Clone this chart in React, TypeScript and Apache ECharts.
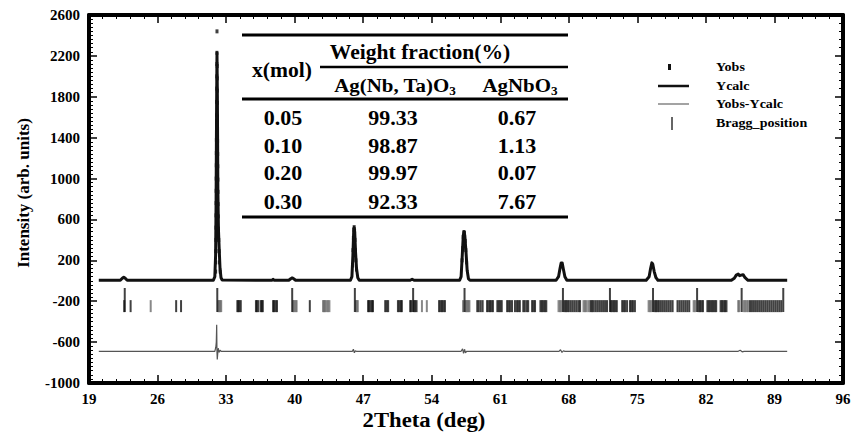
import React, { useEffect, useRef } from 'react';
import * as echarts from 'echarts';

const FONT = '"Liberation Serif", "Times New Roman", serif';

// X axis (2Theta) and Y axis (Intensity) ranges / ticks
const xMin = 19, xMax = 96, xStep = 7;
const yMin = -1000, yMax = 2600, yStep = 400;

// Calculated profile (Ycalc) : [2theta, intensity]
const ycalc: number[][] = [
  [20.0, 5], [22.2, 5], [22.4, 25], [22.55, 35], [22.7, 25], [22.9, 5],
  [31.7, 5], [31.85, 40], [31.93, 250], [31.98, 800], [32.03, 1700], [32.07, 2230],
  [32.11, 1800], [32.16, 900], [32.22, 500], [32.3, 300], [32.38, 120], [32.48, 30], [32.6, 8],
  [37.7, 5], [37.8, 15], [37.9, 5],
  [39.4, 5], [39.6, 20], [39.75, 28], [39.9, 20], [40.1, 5],
  [45.7, 5], [45.85, 40], [45.95, 250], [46.03, 480], [46.08, 520], [46.14, 470],
  [46.22, 280], [46.32, 120], [46.45, 30], [46.6, 6],
  [51.8, 5], [52.0, 15], [52.2, 5],
  [56.85, 5], [57.0, 40], [57.12, 250], [57.22, 440], [57.3, 480], [57.38, 440],
  [57.5, 280], [57.62, 100], [57.75, 20], [57.9, 5],
  [66.7, 5], [66.95, 40], [67.1, 120], [67.22, 175], [67.32, 175], [67.45, 110], [67.6, 40], [67.8, 5],
  [75.9, 5], [76.2, 40], [76.35, 120], [76.48, 175], [76.58, 160], [76.72, 90], [76.9, 30], [77.1, 5],
  [84.6, 5], [84.9, 25], [85.1, 55], [85.3, 65], [85.45, 50], [85.6, 55], [85.8, 60], [86.0, 30], [86.3, 5],
  [90.3, 5],
];

// Observed points (Yobs)
const yobs: number[][] = [
  [31.93, 90], [31.94, 180], [31.95, 290], [31.96, 400], [31.965, 520], [31.97, 640], [31.98, 760],
  [31.985, 880], [31.99, 1000], [32.0, 1130], [32.005, 1250], [32.01, 1380], [32.02, 1500],
  [32.025, 1620], [32.03, 1750], [32.04, 1880], [32.05, 2000], [32.055, 2120], [32.065, 2230],
  [32.07, 2440],
  [32.09, 2100], [32.095, 1980], [32.1, 1860], [32.11, 1740], [32.115, 1610], [32.12, 1490],
  [32.13, 1370], [32.14, 1240], [32.15, 1120], [32.16, 990], [32.17, 870], [32.18, 750],
  [32.2, 630], [32.22, 510], [32.25, 400], [32.29, 290], [32.33, 180], [32.4, 90],
  [45.92, 150], [45.96, 300], [46.0, 420], [46.04, 500], [46.08, 525], [46.12, 490],
  [46.16, 400], [46.2, 300], [46.25, 200], [46.32, 110],
  [57.1, 200], [57.16, 320], [57.22, 430], [57.28, 475], [57.34, 470], [57.42, 390], [57.48, 300], [57.56, 180],
];

// Difference curve (Yobs - Ycalc, offset)
const ydiff: number[][] = [
  [20.0, -690], [31.85, -690], [31.95, -650], [32.0, -600], [32.04, -430], [32.07, -700],
  [32.1, -770], [32.14, -720], [32.2, -660], [32.3, -700], [32.4, -680], [32.5, -690],
  [45.9, -690], [46.0, -670], [46.1, -705], [46.2, -685], [46.3, -690],
  [57.0, -690], [57.15, -665], [57.25, -710], [57.35, -670], [57.45, -705], [57.55, -690],
  [67.0, -690], [67.15, -675], [67.3, -700], [67.45, -685], [67.6, -690],
  [85.3, -690], [85.5, -680], [85.7, -695], [85.9, -690], [90.3, -690],
];

// Bragg positions
const braggTall: number[] = [22.65, 32.1, 39.75, 46.15, 52.1, 57.35, 67.4, 72.2, 76.6, 81.1, 85.65, 89.9];
const braggBlack: number[] = [
  22.6, 23.25, 27.9, 28.4,
  34.15, 34.25, 34.35, 34.5,
  36.05, 36.15, 36.3, 36.55, 36.65, 36.75,
  37.8, 37.9, 38.05, 38.2, 41.55,
  47.5, 47.6, 47.75, 47.9, 48.0,
  49.25, 49.4, 49.55, 50.55, 50.7, 50.85, 50.95,
  51.8, 51.9, 52.15, 52.3, 52.45,
  54.75, 54.9, 55.05, 55.2, 55.35,
  58.65, 58.8, 59.0, 59.2, 59.65, 59.8, 59.95, 60.1, 60.25,
  60.7, 60.85, 61.0, 61.15, 61.7, 61.85, 62.0, 62.2,
  62.5, 62.7, 62.85, 63.0, 63.35, 63.5, 63.7, 63.85,
  64.25, 64.4, 64.55, 65.1, 65.25, 65.4, 65.55, 65.7,
  67.55, 67.7, 67.85, 68.0, 68.2, 68.4, 68.6, 68.8, 69.0, 69.15,
  70.2, 70.35, 70.5, 70.7, 70.9, 71.1, 71.3, 71.5, 71.7, 71.9,
  72.3, 72.45, 72.6, 72.75, 72.9, 73.45, 73.6, 73.75, 73.95,
  74.25, 74.4, 74.55, 74.75,
  76.75, 76.9, 77.05, 77.2, 77.4, 77.6, 77.8, 78.0, 78.2, 78.4, 78.6,
  79.1, 79.3, 79.5, 79.7, 79.9, 80.1, 80.3,
  81.25, 81.4, 81.55, 81.7, 82.15, 82.3, 82.45, 82.6, 82.75, 82.9, 83.05,
  83.5, 83.65, 83.8, 83.95, 84.1,
  86.5, 86.7, 86.9, 87.1, 87.3, 87.5, 87.7, 87.9, 88.1, 88.3, 88.5, 88.7, 88.9, 89.1, 89.3, 89.5, 89.7,
];
const braggGray: number[] = [
  25.3, 32.2, 32.3, 32.4, 32.5, 39.85, 39.95, 40.1, 40.2,
  42.9, 43.0, 43.1, 43.25, 43.4, 43.55, 46.25, 46.35, 46.45,
  53.0, 53.5, 57.2, 57.45, 57.55, 57.65, 57.75, 57.85,
  66.95, 67.1, 67.25, 69.5, 69.65, 69.8, 70.0,
  76.15, 76.3, 76.45, 80.75, 80.9, 85.3, 85.4, 85.85, 86.0, 86.15, 86.3,
];

// Inset table
const xMol: string[] = ['0.05', '0.10', '0.20', '0.30'];
const fracAgNbTaO3: string[] = ['99.33', '98.87', '99.97', '92.33'];
const fracAgNbO3: string[] = ['0.67', '1.13', '0.07', '7.67'];

// Legend
const legendNames: string[] = ['Yobs', 'Ycalc', 'Yobs-Ycalc', 'Bragg_position'];

const TXT = { fill: '#000', fontFamily: FONT, fontWeight: 'bold' as const };

function buildGraphic() {
  const g: any[] = [];
  // axis titles
  g.push({ type: 'text', x: 424, y: 420, scaleX: 1.08, style: { ...TXT, text: '2Theta (deg)', fontSize: 21, align: 'center', verticalAlign: 'middle' } });
  g.push({ type: 'text', x: 23, y: 193, rotation: Math.PI / 2, style: { ...TXT, text: 'Intensity (arb. units)', fontSize: 17, align: 'center', verticalAlign: 'middle' } });

  // table rules
  const rule = (x1: number, x2: number, y: number, w: number) =>
    g.push({ type: 'line', shape: { x1, y1: y, x2, y2: y }, style: { stroke: '#000', lineWidth: w } });
  rule(242, 568, 35, 3);
  rule(320, 568, 67, 2.5);
  rule(242, 568, 99, 3);
  rule(242, 568, 217, 3);

  const T = (x: number, y: number, text: string, size: number, sx: number) =>
    g.push({ type: 'text', x, y, scaleX: sx, style: { ...TXT, text, fontSize: size, align: 'center', verticalAlign: 'middle' } });
  T(420, 52, 'Weight fraction(%)', 20, 1.08);
  T(282, 70, 'x(mol)', 20, 1.08);
  const sub = {
    m: { fontSize: 19, fontWeight: 'bold', fontFamily: FONT, lineHeight: 24, fill: '#000' },
    s: { fontSize: 12, fontWeight: 'bold', fontFamily: FONT, lineHeight: 12, verticalAlign: 'bottom', fill: '#000' },
  };
  g.push({ type: 'text', x: 395, y: 85, scaleX: 1.1, style: { ...TXT, text: '{m|Ag(Nb, Ta)O}{s|3}', rich: sub, align: 'center', verticalAlign: 'middle' } });
  g.push({ type: 'text', x: 520, y: 85, scaleX: 1.1, style: { ...TXT, text: '{m|AgNbO}{s|3}', rich: sub, align: 'center', verticalAlign: 'middle' } });
  const rowY = [118, 146, 173, 202];
  xMol.forEach((v, i) => {
    T(283, rowY[i], v, 20, 1.1);
    T(393, rowY[i], fracAgNbTaO3[i], 20, 1.1);
    T(517, rowY[i], fracAgNbO3[i], 20, 1.1);
  });

  // legend
  const ly = [67, 86, 104, 123];
  g.push({ type: 'rect', shape: { x: 668, y: 64, width: 3, height: 6 }, style: { fill: '#111' } });
  g.push({ type: 'line', shape: { x1: 658, y1: ly[1], x2: 689, y2: ly[1] }, style: { stroke: '#111', lineWidth: 2.5 } });
  g.push({ type: 'line', shape: { x1: 658, y1: ly[2], x2: 689, y2: ly[2] }, style: { stroke: '#666', lineWidth: 1.2 } });
  g.push({ type: 'line', shape: { x1: 672, y1: 117, x2: 672, y2: 130 }, style: { stroke: '#333', lineWidth: 1.5 } });
  legendNames.forEach((n, i) => {
    g.push({ type: 'text', x: 716, y: ly[i], scaleX: 1.08, style: { ...TXT, text: n, fontSize: 13, align: 'left', verticalAlign: 'middle' } });
  });
  return g;
}

export default function App() {
  const ref = useRef<HTMLDivElement>(null);
  useEffect(() => {
    if (!ref.current) return;
    const chart = echarts.init(ref.current, null, { renderer: 'svg' });
    const axisLine = { show: true, onZero: false, lineStyle: { color: '#000', width: 4 } };
    const tick = { show: true, inside: true, length: 8, lineStyle: { color: '#000', width: 1.5 } };
    const label = { color: '#000', fontFamily: FONT, fontWeight: 'bold', fontSize: 15, formatter: (v: number) => String(v) };
    chart.setOption({
      animation: false,
      backgroundColor: '#fff',
      grid: { left: 89, right: 14, top: 15, bottom: 50, containLabel: false },
      xAxis: [
        {
          type: 'value', min: xMin, max: xMax, interval: xStep, position: 'bottom',
          axisLine, axisTick: tick,
          minorTick: { show: true, splitNumber: 5, length: 4, lineStyle: { color: '#000', width: 1 } },
          axisLabel: { ...label, margin: 8 }, splitLine: { show: false },
        },
        {
          type: 'value', min: xMin, max: xMax, interval: xStep, position: 'top',
          axisLine, axisTick: tick,
          minorTick: { show: true, splitNumber: 5, length: 4, lineStyle: { color: '#000', width: 1 } },
          axisLabel: { show: false }, splitLine: { show: false },
        },
      ],
      yAxis: [
        {
          type: 'value', min: yMin, max: yMax, interval: yStep, position: 'left',
          axisLine, axisTick: tick,
          minorTick: { show: true, splitNumber: 10, length: 4, lineStyle: { color: '#000', width: 1 } },
          axisLabel: { ...label, margin: 9 }, splitLine: { show: false },
        },
        {
          type: 'value', min: yMin, max: yMax, interval: yStep, position: 'right',
          axisLine, axisTick: tick,
          minorTick: { show: true, splitNumber: 5, length: 4, lineStyle: { color: '#000', width: 1 } },
          axisLabel: { show: false }, splitLine: { show: false },
        },
      ],
      series: [
        {
          name: 'Bragg_position', type: 'scatter', silent: true,
          data: braggBlack.map((p) => [p, -248]), symbol: 'rect', symbolSize: [2, 12],
          itemStyle: { color: '#111' },
        },
        {
          name: 'Bragg_position_2', type: 'scatter', silent: true,
          data: braggGray.map((p) => [p, -248]), symbol: 'rect', symbolSize: [2, 12],
          itemStyle: { color: '#6a6a6a' },
        },
        {
          name: 'Bragg_position_strong', type: 'scatter', silent: true,
          data: braggTall.map((p) => [p, -188]), symbol: 'rect', symbolSize: [2, 24],
          itemStyle: { color: '#111' },
        },
        {
          name: 'Yobs-Ycalc', type: 'line', data: ydiff, showSymbol: false, silent: true,
          lineStyle: { color: '#555', width: 1.2 },
        },
        {
          name: 'Ycalc', type: 'line', data: ycalc, showSymbol: false, silent: true,
          lineStyle: { color: '#111', width: 3, join: 'round' },
        },
        {
          name: 'Yobs', type: 'scatter', data: yobs, symbol: 'rect', symbolSize: [3, 4], silent: true,
          itemStyle: { color: '#111' },
        },
      ],
      graphic: buildGraphic(),
    });
    return () => chart.dispose();
  }, []);
  return <div ref={ref} style={{ width: 857, height: 433, position: 'absolute', left: 0, top: 0 }} />;
}
